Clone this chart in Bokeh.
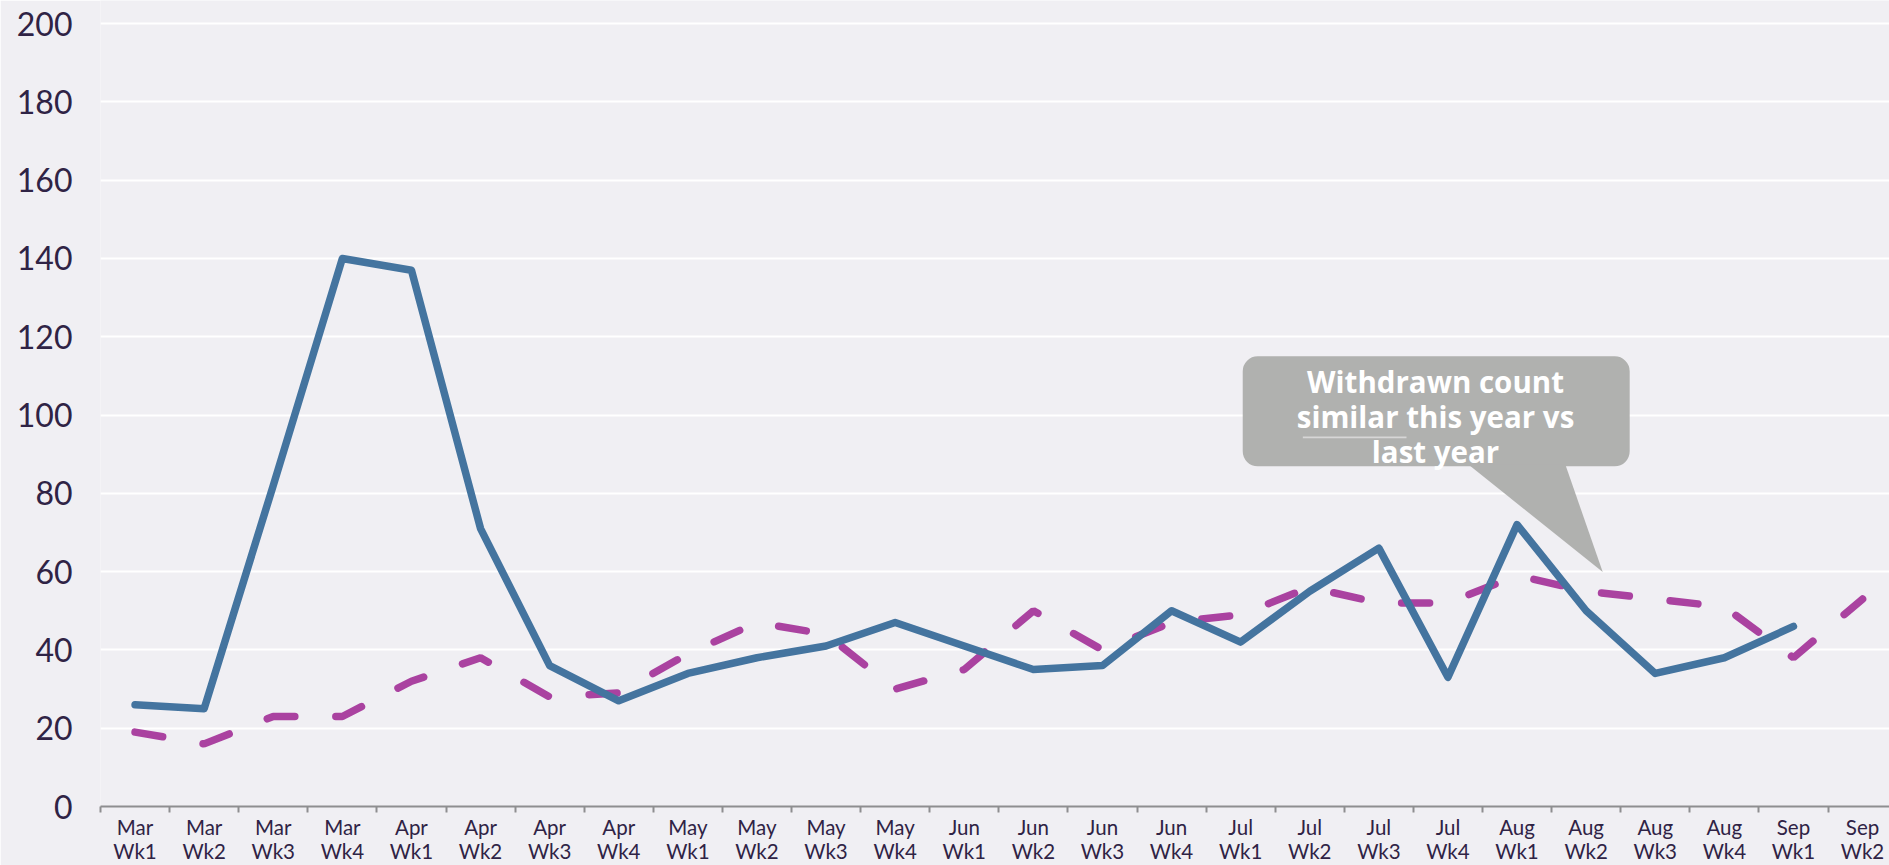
from bokeh.plotting import figure
from bokeh.models import Range1d, FixedTicker, BoxAnnotation, PolyAnnotation, Label
from bokeh.embed import file_html
from bokeh.resources import INLINE

# ---- data ----
months = ["Mar"] * 4 + ["Apr"] * 4 + ["May"] * 4 + ["Jun"] * 4 + ["Jul"] * 4 + ["Aug"] * 4 + ["Sep"] * 2
weeks = ["Wk1", "Wk2", "Wk3", "Wk4"] * 6 + ["Wk1", "Wk2"]
tick_labels = [f"{m}\n{w}" for m, w in zip(months, weeks)]

this_year = [26, 25, 82, 140, 137, 71, 36, 27, 34, 38, 41, 47, 41, 35, 36, 50, 42, 55, 66, 33, 72, 50, 34, 38, 46]
last_year = [19, 16, 23, 23, 32, 38, 28, 29, 39, 47, 44, 30, 35, 50, 40, 47, 49, 56, 52, 52, 59, 55, 53, 51, 38, 53]

y_ticks = [0, 20, 40, 60, 80, 100, 120, 140, 160, 180, 200]

callout_lines = ["Withdrawn count", "similar this year vs", "last year"]

BG = "#F0EFF3"
TXT = "#2F2345"
BLUE = "#44749F"
PINK = "#AA42A0"
CALLOUT = "#B0B1AF"

n = len(tick_labels)
xs_all = list(range(n))

p = figure(width=1889, height=865, output_backend="svg", toolbar_location=None,
           x_range=Range1d(-0.5, 25.39), y_range=Range1d(0, 205.9),
           min_border_left=100, min_border_right=0, min_border_top=0, min_border_bottom=40)
p.background_fill_color = BG
p.border_fill_color = BG
p.outline_line_color = None

# grid
p.xgrid.grid_line_color = None
p.ygrid.grid_line_color = "white"
p.ygrid.grid_line_width = 2
p.ygrid.ticker = FixedTicker(ticks=y_ticks)

# y axis
p.yaxis.ticker = FixedTicker(ticks=y_ticks)
p.yaxis.axis_line_color = None
p.yaxis.major_tick_line_color = None
p.yaxis.minor_tick_line_color = None
p.yaxis.major_tick_out = 0
p.yaxis.major_label_standoff = 28
p.yaxis.major_label_text_font = "Lato"
p.yaxis.major_label_text_font_size = "32px"
p.yaxis.major_label_text_color = TXT

# x axis
p.xaxis.ticker = FixedTicker(ticks=xs_all, minor_ticks=[i - 0.5 for i in range(n + 1)])
p.xaxis.major_label_overrides = {i: lab for i, lab in enumerate(tick_labels)}
p.xaxis.axis_line_color = "#8E8E90"
p.xaxis.axis_line_width = 2
p.xaxis.major_tick_line_color = None
p.xaxis.major_tick_out = 0
p.xaxis.major_tick_in = 0
p.xaxis.minor_tick_line_color = "#8E8E90"
p.xaxis.minor_tick_line_width = 2
p.xaxis.minor_tick_out = 6
p.xaxis.minor_tick_in = 0
p.xaxis.major_label_standoff = 2
p.xaxis.major_label_text_font = "Lato"
p.xaxis.major_label_text_font_size = "20.5px"
p.xaxis.major_label_text_line_height = 1.0
p.xaxis.major_label_text_color = TXT

# lines
p.line(xs_all, last_year, line_color=PINK, line_width=7.5, line_dash="28 41", line_cap="round")
p.line(xs_all[:len(this_year)], this_year, line_color=BLUE, line_width=7.5, line_join="round", line_cap="round")

# callout
box = BoxAnnotation(left=16.03, right=21.63, top=115.0, bottom=86.9, fill_color=CALLOUT,
                    fill_alpha=1.0, line_color=None, border_radius=15)
p.add_layout(box)
pointer = PolyAnnotation(xs=[19.30, 20.70, 21.24], ys=[87.3, 87.3, 59.9], fill_color=CALLOUT,
                         fill_alpha=1.0, line_color=None)
p.add_layout(pointer)

for txt, yy in zip(callout_lines, [108.6, 99.6, 90.8]):
    p.add_layout(Label(x=18.82, y=yy, text=txt, text_align="center", text_baseline="middle",
                       text_color="white", text_font="Open Sans", text_font_style="bold",
                       text_font_size="29.5px"))
underline = BoxAnnotation(left=16.90, right=18.40, top=94.5, bottom=94.1, fill_color="#D6D6D6",
                          fill_alpha=1.0, line_color=None)
p.add_layout(underline)

open("out.html", "w").write(file_html(p, INLINE))
